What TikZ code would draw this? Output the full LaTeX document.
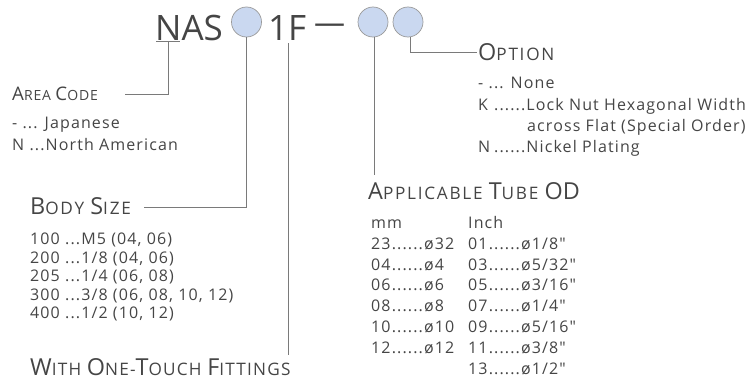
\documentclass[tikz,border=0pt]{standalone}
\usepackage{fontspec}
\setmainfont{Open Sans}
\newfontfamily\hfont[LetterSpace=10]{Open Sans}
\newfontfamily\hfontw[LetterSpace=7]{Open Sans}
\newfontfamily\hfonta[LetterSpace=6]{Open Sans}
\newfontfamily\hfontn{Open Sans}
\newfontfamily\ifont[LetterSpace=7]{Open Sans}
\definecolor{txt}{HTML}{454545}
\definecolor{ln}{HTML}{7A7A7A}
\definecolor{cfill}{HTML}{CAD8F0}
\definecolor{cdraw}{HTML}{9A9A9A}
\newcommand\hdB[1]{{\fontsize{23.4}{23.4}\selectfont #1}}
\newcommand\hdS[1]{{\fontsize{17.2}{17.2}\selectfont #1}}
\newcommand\haB[1]{{\fontsize{18.7}{18.7}\selectfont #1}}
\newcommand\haS[1]{{\fontsize{14}{14}\selectfont #1}}
\tikzset{
  big/.style={anchor=base west,inner sep=0pt,text=txt,font=\fontsize{35}{35}\selectfont},
  head/.style={anchor=base west,inner sep=0pt,text=txt,font=\hfont},
  item/.style={anchor=base west,inner sep=0pt,text=txt,font=\ifont\fontsize{16}{16}\selectfont},
  circ/.style={circle,minimum size=30pt,inner sep=0pt,fill=cfill,draw=cdraw,line width=0.7pt},
  conn/.style={draw=ln,line width=0.9pt},
}
\begin{document}
\begin{tikzpicture}[x=1pt,y=-1pt]
\useasboundingbox (0,0) rectangle (751,380);
% top code
\node[big] (nas) at (155,40) {NAS};
\node[circ] (c1) at (246.5,22) {};
\node[big] (onef) at (268,40) {1F};
\node[big,font=\fontsize{31}{31}\selectfont] (dash) at (314,33) {—};
\node[circ] (c2) at (373,22) {};
\node[circ] (c3) at (408,22) {};
% underline of N
\coordinate (nl) at (156,41);
\coordinate (nr) at (180,41);
\draw[conn] (nl) -- (nr);
\coordinate (nmid) at (168,41);
% headings
\node[head,font=\hfonta] (area) at (12,100) {\haB{A}\haS{REA }\haB{C}\haS{ODE}};
\node[head] (body) at (30,214) {\hdB{B}\hdS{ODY }\hdB{S}\hdS{IZE}};
\node[head,font=\hfontw] (with) at (30,375) {\hdB{W}\hdS{ITH }\hdB{O}\hdS{NE-}\hdB{T}\hdS{OUCH }\hdB{F}\hdS{ITTINGS}};
\node[head] (opt) at (478,60) {\hdB{O}\hdS{PTION}};
\node[head] (tube) at (368,199) {\hdB{A}\hdS{PPLICABLE }\hdB{T}\hdS{UBE }{\hfontn\hdB{OD}}};
% connectors
\coordinate (a1) at (168,94);
\coordinate (a2) at (125,94);
\draw[conn] (nmid) -- (a1) -- (a2);
\coordinate (b1) at (246.5,207);
\coordinate (b2) at (144,207);
\draw[conn] (c1.south) -- (b1) -- (b2);
\coordinate (f0) at (288,43);
\coordinate (f1) at (288,355);
\draw[conn] (f0) -- (f1);
\coordinate (t1) at (374,175);
\draw[conn] (c2.south -| t1) -- (t1);
\coordinate (o1) at (410,52);
\coordinate (o2) at (477,52);
\draw[conn] (c3.south -| o1) -- (o1) -- (o2);
% area code items
\node[item] (a-1) at (12,128) {- ... Japanese};
\node[item] (a-2) at (12,150) {N ...North American};
% body size items
\node[item] (b-1) at (30,244) {100 ...M5 (04, 06)};
\node[item] (b-2) at (30,263) {200 ...1/8 (04, 06)};
\node[item] (b-3) at (30,281) {205 ...1/4 (06, 08)};
\node[item] (b-4) at (30,300) {300 ...3/8 (06, 08, 10, 12)};
\node[item] (b-5) at (30,318) {400 ...1/2 (10, 12)};
% option items
\node[item] (o-1) at (478,88) {- ... None};
\node[item] (o-2) at (478,110) {K};
\node[item] (o-2b) at (494,110) {......Lock Nut Hexagonal Width};
\node[item] (o-3) at (527,131) {across Flat (Special Order)};
\node[item] (o-4) at (478,152) {N};
\node[item] (o-4b) at (494,152) {......Nickel Plating};
% tube OD
\node[item] (mm) at (371,228) {mm};
\node[item] (inch) at (468,228) {Inch};
\node[item] (m1) at (371,249) {23......ø32};
\node[item] (m2) at (371,270) {04......ø4};
\node[item] (m3) at (371,290) {06......ø6};
\node[item] (m4) at (371,311) {08......ø8};
\node[item] (m5) at (371,332) {10......ø10};
\node[item] (m6) at (371,353) {12......ø12};
\node[item] (i1) at (468,249) {01......ø1/8″};
\node[item] (i2) at (468,270) {03......ø5/32″};
\node[item] (i3) at (468,290) {05......ø3/16″};
\node[item] (i4) at (468,311) {07......ø1/4″};
\node[item] (i5) at (468,332) {09......ø5/16″};
\node[item] (i6) at (468,353) {11......ø3/8″};
\node[item] (i7) at (468,374) {13......ø1/2″};
\end{tikzpicture}
\end{document}
